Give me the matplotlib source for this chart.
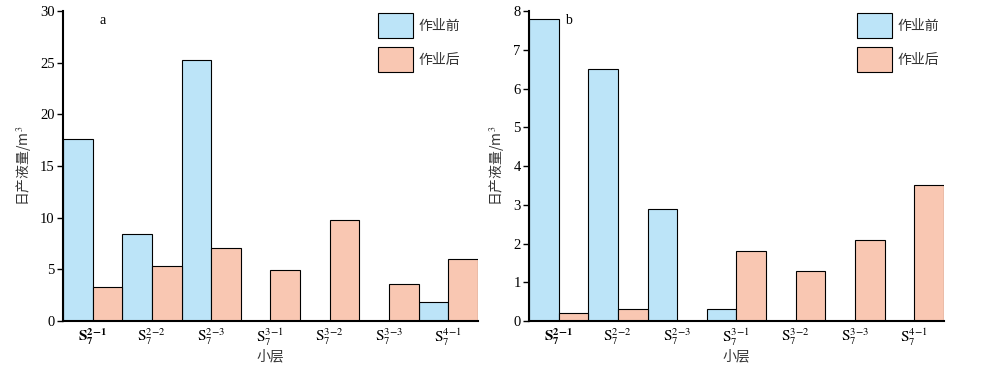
import matplotlib
matplotlib.use('Agg')
import matplotlib.pyplot as plt
import numpy as np

plt.rcParams['font.family'] = ['Liberation Serif', 'Noto Sans CJK SC']
plt.rcParams['mathtext.fontset'] = 'stix'

layers = ['2-1', '2-2', '2-3', '3-1', '3-2', '3-3', '4-1']
a_before = [17.6, 8.4, 25.3, 0, 0, 0, 1.8]
a_after = [3.3, 5.3, 7.1, 4.9, 9.8, 3.6, 6.0]
b_before = [7.8, 6.5, 2.9, 0.3, 0, 0, 0]
b_after = [0.2, 0.3, 0, 1.8, 1.3, 2.1, 3.5]

c_before = '#bce4f8'
c_after = '#f9c7b2'
cjk = ['Noto Sans CJK SC', 'DejaVu Sans']


def tick_label(i, s):
    top = s.replace('-', r'\!-\!')
    if i == 0:
        return r'$\mathbf{S}_{\mathbf{7}}^{\mathbf{' + top + '}}$'
    return r'$\mathrm{S}_7^{' + top + '}$'


def panel(ax, before, after, ymax, letter, leg_x):
    x = np.arange(len(layers))
    w = 0.5
    ax.bar(x - w / 2, before, w, color=c_before, edgecolor='black', linewidth=0.8, label='作业前')
    ax.bar(x + w / 2, after, w, color=c_after, edgecolor='black', linewidth=0.8, label='作业后')
    ax.set_xlim(-0.5, len(layers) - 0.5)
    ax.set_ylim(0, ymax)
    ax.set_xticks(x)
    ax.set_xticklabels([tick_label(i, s) for i, s in enumerate(layers)], fontsize=11)
    ax.tick_params(axis='x', length=0, pad=4)
    ax.tick_params(axis='y', direction='out', length=4, width=1, labelsize=10.5, pad=2)
    for sp in ['top', 'right']:
        ax.spines[sp].set_visible(False)
    for sp in ['left', 'bottom']:
        ax.spines[sp].set_linewidth(1.5)
    ax.set_xlabel('小层', family=cjk, fontsize=10, color='#333333', labelpad=1)
    ax.set_ylabel('日产液量/m$^3$', family=cjk, fontsize=10, color='#333333', labelpad=5)
    ax.text(0.095, 0.968, letter, transform=ax.transAxes, fontsize=10, va='center', ha='center')
    leg = ax.legend(loc='upper left', bbox_to_anchor=(leg_x, 0.994), frameon=False,
                    handlelength=2.52, handleheight=2.39, handletextpad=0.43,
                    labelspacing=0.65, borderpad=0, borderaxespad=0,
                    prop={'family': cjk, 'size': 10})
    for t in leg.get_texts():
        t.set_color('#333333')


fig = plt.figure(figsize=(9.83, 3.65), dpi=100)
ax1 = fig.add_axes([0.0641, 0.1205, 0.422, 0.8493])
ax2 = fig.add_axes([0.5382, 0.1205, 0.422, 0.8493])
panel(ax1, a_before, a_after, 30, 'a', 0.759)
panel(ax2, b_before, b_after, 8, 'b', 0.79)

fig.savefig('out.png', dpi=100)
